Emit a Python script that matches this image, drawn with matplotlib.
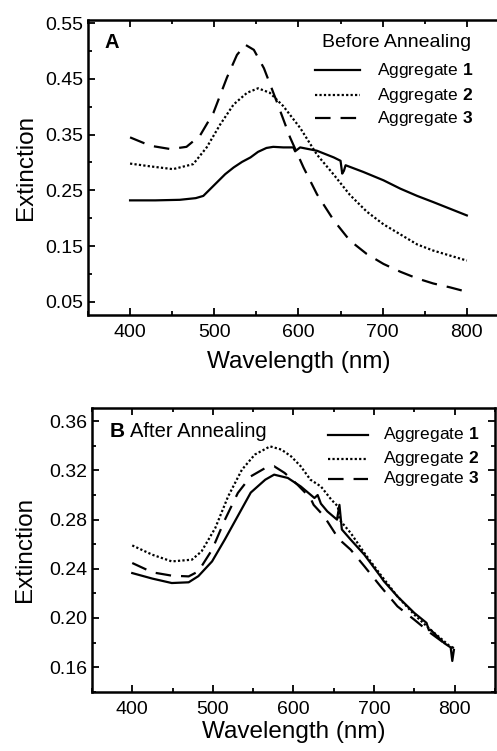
import numpy as np
import matplotlib.pyplot as plt
from matplotlib.ticker import MultipleLocator

plt.rcParams['font.family'] = ['Liberation Sans', 'DejaVu Sans']
plt.rcParams['mathtext.fontset'] = 'custom'
plt.rcParams['mathtext.bf'] = 'Liberation Sans:bold'
plt.rcParams['mathtext.rm'] = 'Liberation Sans'

# Panel A: before annealing
wl_a1 = [400, 430, 459, 478, 487, 495, 503, 513, 523, 533, 543, 552, 562, 570,
         582, 594, 596, 602, 622, 642, 650, 652, 654, 656, 677, 701, 721, 741,
         760, 780, 800]
ext_a1 = [0.232, 0.232, 0.233, 0.236, 0.240, 0.252, 0.264, 0.279, 0.291, 0.301,
          0.309, 0.319, 0.326, 0.328, 0.327, 0.327, 0.320, 0.327, 0.321, 0.309,
          0.303, 0.280, 0.285, 0.295, 0.283, 0.268, 0.253, 0.240, 0.229, 0.217,
          0.205]

wl_a2 = [400, 424, 451, 475, 491, 507, 523, 539, 552, 566, 582, 602, 622, 642,
         661, 681, 701, 721, 741, 760, 780, 800]
ext_a2 = [0.298, 0.293, 0.288, 0.297, 0.327, 0.368, 0.404, 0.425, 0.433, 0.425,
          0.401, 0.362, 0.314, 0.278, 0.242, 0.212, 0.189, 0.171, 0.153, 0.142,
          0.133, 0.124]

wl_a3 = [400, 424, 448, 467, 483, 499, 515, 527, 537, 547, 559, 574, 590, 606,
         622, 642, 661, 681, 701, 721, 741, 760, 780, 800]
ext_a3 = [0.345, 0.330, 0.324, 0.328, 0.348, 0.389, 0.452, 0.493, 0.511, 0.502,
          0.469, 0.410, 0.345, 0.291, 0.243, 0.196, 0.160, 0.136, 0.118, 0.104,
          0.092, 0.083, 0.076, 0.068]

# Panel B: after annealing
wl_b1 = [400, 425, 449, 470, 482, 499, 515, 531, 547, 565, 576, 593, 609, 626,
         630, 634, 642, 654, 657, 660, 671, 688, 708, 712, 729, 750, 765, 768,
         770, 787, 795, 797, 799]
ext_b1 = [0.2365, 0.232, 0.2284, 0.229, 0.234, 0.246, 0.264, 0.283, 0.302, 0.3125,
          0.3166, 0.3139, 0.307, 0.2976, 0.300, 0.293, 0.2867, 0.280, 0.292, 0.272,
          0.2637, 0.2514, 0.2338, 0.230, 0.2175, 0.204, 0.196, 0.190, 0.1904,
          0.1795, 0.176, 0.165, 0.174]

wl_b2 = [400, 425, 449, 474, 486, 503, 519, 536, 552, 571, 585, 597, 609, 621,
         634, 647, 655, 657, 671, 688, 708, 729, 750, 770, 787, 799]
ext_b2 = [0.259, 0.2514, 0.246, 0.2474, 0.2542, 0.2732, 0.299, 0.3206, 0.3329,
          0.3396, 0.337, 0.3315, 0.3234, 0.3125, 0.307, 0.2962, 0.2908, 0.280,
          0.2691, 0.2528, 0.2352, 0.2175, 0.2026, 0.1904, 0.181, 0.174]

wl_b3 = [400, 425, 449, 470, 482, 499, 515, 531, 547, 565, 576, 589, 605, 621,
         625, 638, 654, 660, 671, 688, 708, 729, 750, 770, 787, 799]
ext_b3 = [0.2447, 0.2371, 0.2344, 0.2338, 0.2379, 0.2555, 0.280, 0.3017, 0.3152,
          0.322, 0.3234, 0.318, 0.3084, 0.2976, 0.292, 0.2827, 0.2664, 0.262,
          0.2555, 0.242, 0.2257, 0.2094, 0.1985, 0.1877, 0.1795, 0.1755]

styles = [dict(ls='-'), dict(ls=(0, (1, 1))), dict(ls=(0, (7, 4.5)))]
labels = ['Aggregate $\\mathbf{1}$', 'Aggregate $\\mathbf{2}$', 'Aggregate $\\mathbf{3}$']

fig = plt.figure(figsize=(4.97, 7.51), dpi=100)
ax_a = fig.add_axes([0.177, 0.581, 0.847, 0.392])
ax_b = fig.add_axes([0.185, 0.079, 0.811, 0.378])


def style_axes(ax, ylim, yticks, ymin, xlabelpad, ylabelpad):
    ax.set_xlim(350, 850)
    ax.set_ylim(*ylim)
    ax.xaxis.set_major_locator(MultipleLocator(100))
    ax.xaxis.set_minor_locator(MultipleLocator(50))
    ax.set_yticks(yticks)
    ax.yaxis.set_minor_locator(MultipleLocator(ymin))
    ax.yaxis.set_major_formatter(plt.FormatStrFormatter('%.2f'))
    ax.tick_params(which='both', direction='in', top=True, right=True,
                   labelsize=14, width=1.3)
    ax.tick_params(which='major', length=5)
    ax.tick_params(which='minor', length=3)
    ax.tick_params(axis='x', pad=7)
    for sp in ax.spines.values():
        sp.set_linewidth(1.8)
    ax.set_xlabel('Wavelength (nm)', fontsize=17.5, labelpad=xlabelpad)
    ax.set_ylabel('Extinction', fontsize=17.5, labelpad=ylabelpad)


def key(ax, x0, x1, xt, rows, fs):
    # hand-placed key, as in the original figure
    for st, lab, y in zip(styles, labels, rows):
        ax.plot([x0, x1], [y, y], color='black', lw=1.6, transform=ax.transAxes,
                clip_on=False, **st)
        ax.text(xt, y, lab, transform=ax.transAxes, fontsize=fs, va='center')


for ax, data in [(ax_a, [(wl_a1, ext_a1), (wl_a2, ext_a2), (wl_a3, ext_a3)]),
                 (ax_b, [(wl_b1, ext_b1), (wl_b2, ext_b2), (wl_b3, ext_b3)])]:
    for (w, e), st in zip(data, styles):
        ax.plot(w, e, color='black', lw=1.6, **st)

style_axes(ax_a, (0.027, 0.555), np.arange(0.05, 0.56, 0.1), 0.05, 7, 6)
style_axes(ax_b, (0.14, 0.371), np.arange(0.16, 0.37, 0.04), 0.02, 2, 9)

ax_a.text(0.04, 0.925, 'A', transform=ax_a.transAxes, fontsize=14.5,
          fontweight='bold', va='center')
ax_a.text(0.734, 0.925, 'Before Annealing', transform=ax_a.transAxes,
          fontsize=14, va='center', ha='center')
key(ax_a, 0.539, 0.646, 0.686, [0.831, 0.746, 0.668], 12.5)

ax_b.text(0.045, 0.915, 'B', transform=ax_b.transAxes, fontsize=15,
          fontweight='bold', va='center')
ax_b.text(0.095, 0.915, 'After Annealing', transform=ax_b.transAxes,
          fontsize=14.5, va='center')
key(ax_b, 0.586, 0.685, 0.722, [0.905, 0.820, 0.750], 12.5)

fig.savefig('out.png', dpi=100)
